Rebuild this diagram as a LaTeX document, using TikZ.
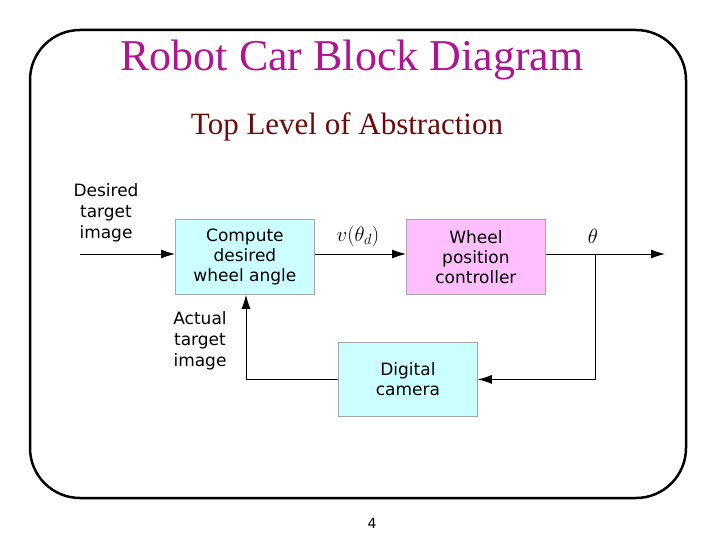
\documentclass[tikz,border=0pt]{standalone}
\usepackage{fontspec}
\setmainfont{Liberation Serif}
\newfontfamily\diag{DejaVu Sans}
\usetikzlibrary{arrows.meta}
\definecolor{ttl}{HTML}{B0158F}
\definecolor{sub}{HTML}{6E0A0A}
\definecolor{cy}{HTML}{CCFFFF}
\definecolor{pk}{HTML}{FFBFFF}
\begin{document}
\begin{tikzpicture}[x=1pt,y=-1pt,
  blk/.style={draw=gray!70,line width=0.8pt,minimum width=139pt,minimum height=75pt,anchor=north west,align=center,font=\diag\fontsize{17}{20}\selectfont,inner sep=0pt},
  lbl/.style={align=center,font=\diag\fontsize{17}{21}\selectfont,inner sep=0pt},
  arr/.style={-{Latex[length=14pt,width=9pt]},line width=0.9pt}]
\useasboundingbox (0,0) rectangle (720,540);
\fill[white] (0,0) rectangle (720,540);
\draw[line width=2.5pt,rounded corners=50pt] (30,30) rectangle (686,498);
\node[text=ttl,font=\fontsize{44}{48}\selectfont] (t) at (352,60) {Robot Car Block Diagram};
\node[text=sub,font=\fontsize{31}{34}\selectfont] (s) at (347,127) {Top Level of Abstraction};
\node[blk,fill=cy] (c) at (175,219) {Compute\\desired\\wheel angle};
\node[blk,fill=pk] (w) at (406,219) {Wheel\\position\\controller};
\node[blk,fill=cy,minimum height=74pt] (d) at (338,342) {Digital\\camera};
\node[lbl] (dt) at (106,213) {Desired\\target\\image};
\node[lbl] (at) at (200,341) {Actual\\target\\image};
\node[font=\fontsize{20}{24}\selectfont] (v) at (358,236) {$v(\theta_d)$};
\node[font=\fontsize{20}{24}\selectfont] (th) at (593,236) {$\theta$};
\node[font=\diag\fontsize{14}{16}\selectfont] (pg) at (372,523) {4};
\coordinate (in) at (80,254);
\coordinate (out) at (665,254);
\coordinate (br) at (595,254);
\draw[arr] (in) -- (c.west|-in);
\draw[arr] (c.east|-in) -- (w.west|-in);
\draw[arr] (w.east|-in) -- (out);
\draw[arr] (br) |- (d.east);
\draw[arr] (d.west) -| (c.south-|246,0);
\end{tikzpicture}
\end{document}
